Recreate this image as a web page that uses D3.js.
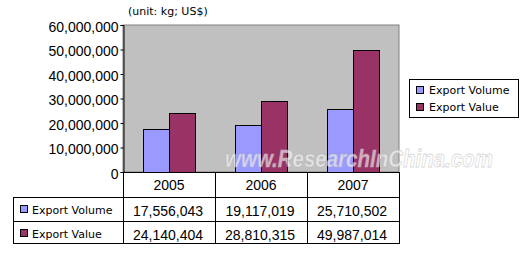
<!DOCTYPE html>
<html lang="en">
<head>
  <meta charset="UTF-8" />
  <title>Export Volume and Value 2005-2007</title>
  <script src="https://d3js.org/d3.v7.min.js"></script>
  <style>
    body { margin: 0; background: #fff; }
    svg { display: block; }
  </style>
</head>
<body>
  <svg id="chart" width="525" height="254"></svg>

  <script>
    // data
    const years = ["2005", "2006", "2007"];
    const seriesNames = ["Export Volume", "Export Value"];
    const exportVolume = [17556043, 19117019, 25710502];
    const exportValue = [24140404, 28810315, 49987014];
    const yTicks = [0, 10000000, 20000000, 30000000, 40000000, 50000000, 60000000];
    const unitLabel = "(unit: kg; US$)";
    const watermark = "www.ResearchInChina.com";

    const colors = ["#9999FF", "#993366"];
    const seriesData = [exportVolume, exportValue];

    const svg = d3.select("#chart");
    const plot = {left: 123, right: 399, top: 25, bottom: 172};
    const table = {left: 13, rows: [172, 197, 221, 243]};

    const x0 = d3.scaleBand()
        .domain(years)
        .range([plot.left, plot.right]);

    const x1 = d3.scaleBand()
        .domain(seriesNames)
        .range([0, x0.bandwidth()])
        .paddingInner(0)
        .paddingOuter(0.77);

    const y = d3.scaleLinear()
        .domain([0, 60000000])
        .range([plot.bottom, plot.top]);

    // plot background
    svg.append("rect")
        .attr("x", plot.left)
        .attr("y", plot.top)
        .attr("width", plot.right - plot.left)
        .attr("height", plot.bottom - plot.top)
        .attr("fill", "#C0C0C0")
        .attr("stroke", "#808080")
        .attr("stroke-width", 1);

    // bars
    const groups = svg.selectAll(".grp")
        .data(years)
        .enter().append("g")
          .attr("transform", d => `translate(${x0(d)},0)`);

    groups.selectAll("rect")
        .data((d, i) => seriesNames.map((s, j) => ({s, v: seriesData[j][i], j})))
        .enter().append("rect")
          .attr("x", d => Math.round(x1(d.s)) + 0.5)
          .attr("y", d => Math.round(y(d.v)) + 0.5)
          .attr("width", Math.round(x1.bandwidth()))
          .attr("height", d => plot.bottom - Math.round(y(d.v)))
          .attr("fill", d => colors[d.j])
          .attr("stroke", "#000")
          .attr("stroke-width", 1);

    // watermark
    svg.append("text")
        .attr("x", 225)
        .attr("y", 167)
        .attr("textLength", 268)
        .attr("lengthAdjust", "spacingAndGlyphs")
        .attr("font-family", "Liberation Sans, Arial, sans-serif")
        .attr("font-size", "23px")
        .attr("font-weight", "bold")
        .attr("font-style", "italic")
        .attr("fill", "#ffffff")
        .attr("fill-opacity", 0.6)
        .attr("stroke", "#b0b0b0")
        .attr("stroke-opacity", 0.5)
        .attr("stroke-width", 0.8)
        .text(watermark);

    // y axis
    const yAxis = svg.append("g")
        .attr("transform", `translate(${plot.left + 0.5},0)`)
        .call(d3.axisLeft(y).tickValues(yTicks).tickSize(3).tickPadding(2).tickFormat(d3.format(",")));
    yAxis.select(".domain").attr("stroke", "#000");
    yAxis.selectAll(".tick line").attr("stroke", "#000");
    yAxis.selectAll(".tick text")
        .attr("font-family", "Liberation Sans, Arial, sans-serif")
        .attr("font-size", "14px")
        .attr("fill", "#000")
        .attr("dy", "0.45em");

    // unit label
    svg.append("text")
        .attr("x", 128)
        .attr("y", 15)
        .attr("font-family", "DejaVu Sans, Verdana, sans-serif")
        .attr("font-size", "11px")
        .text(unitLabel);

    // data table
    const tg = svg.append("g").attr("stroke", "#000").attr("stroke-width", 1);
    const r = table.rows;
    // horizontal lines
    tg.append("line").attr("x1", plot.left).attr("x2", plot.right + 0.5).attr("y1", r[0] + 0.5).attr("y2", r[0] + 0.5);
    r.slice(1).forEach(v => {
      tg.append("line").attr("x1", table.left).attr("x2", plot.right + 0.5).attr("y1", v + 0.5).attr("y2", v + 0.5);
    });
    // vertical lines
    tg.append("line").attr("x1", table.left + 0.5).attr("x2", table.left + 0.5).attr("y1", r[1]).attr("y2", r[3] + 1);
    years.forEach(yr => {
      const xv = Math.round(x0(yr)) + 0.5;
      tg.append("line").attr("x1", xv).attr("x2", xv).attr("y1", r[0]).attr("y2", r[3] + 1);
    });
    tg.append("line").attr("x1", plot.right + 0.5).attr("x2", plot.right + 0.5).attr("y1", r[0]).attr("y2", r[3] + 1);

    // header years
    svg.selectAll(".yr")
        .data(years)
        .enter().append("text")
          .attr("x", d => x0(d) + x0.bandwidth() / 2)
          .attr("y", 190)
          .attr("text-anchor", "middle")
          .attr("font-family", "Liberation Sans, Arial, sans-serif")
          .attr("font-size", "14px")
          .text(d => d);

    // rows
    const fmt = d3.format(",");
    seriesNames.forEach((s, j) => {
      const top = r[j + 1];
      svg.append("rect")
          .attr("x", 20.5)
          .attr("y", top + 8.5)
          .attr("width", 7)
          .attr("height", 7)
          .attr("fill", colors[j])
          .attr("stroke", "#000");
      svg.append("text")
          .attr("x", 32)
          .attr("y", top + 17)
          .attr("font-family", "DejaVu Sans, Verdana, sans-serif")
          .attr("font-size", "11px")
          .text(s);
      svg.selectAll(".v" + j)
          .data(seriesData[j])
          .enter().append("text")
            .attr("x", (d, i) => x0(years[i]) + x0.bandwidth() / 2 - 1)
            .attr("y", top + 19)
            .attr("text-anchor", "middle")
            .attr("font-family", "Liberation Sans, Arial, sans-serif")
            .attr("font-size", "14px")
            .text(d => fmt(d));
    });

    // legend
    const lg = svg.append("g");
    lg.append("rect")
        .attr("x", 409.5)
        .attr("y", 79.5)
        .attr("width", 109)
        .attr("height", 38)
        .attr("fill", "#fff")
        .attr("stroke", "#000");
    seriesNames.forEach((s, j) => {
      lg.append("rect")
          .attr("x", 416.5)
          .attr("y", 86.5 + j * 17)
          .attr("width", 7)
          .attr("height", 7)
          .attr("fill", colors[j])
          .attr("stroke", "#000");
      lg.append("text")
          .attr("x", 429)
          .attr("y", 94 + j * 17)
          .attr("font-family", "DejaVu Sans, Verdana, sans-serif")
          .attr("font-size", "11px")
          .text(s);
    });
  </script>
</body>
</html>
